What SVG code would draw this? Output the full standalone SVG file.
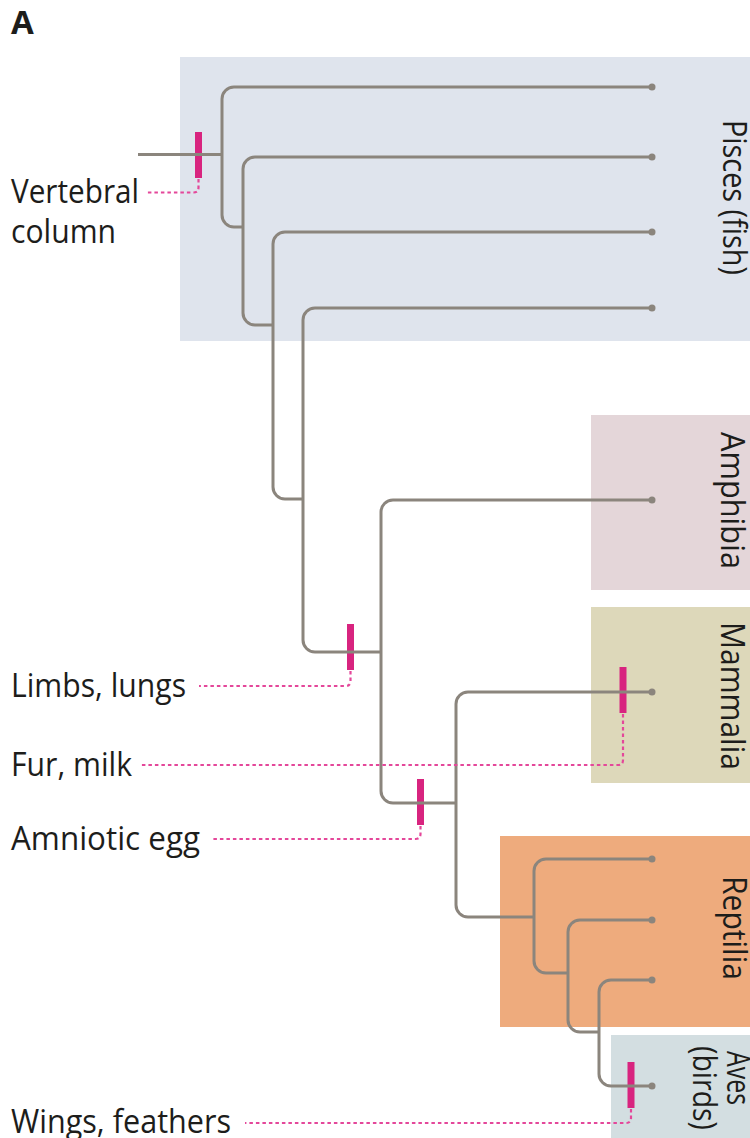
<svg xmlns="http://www.w3.org/2000/svg" width="750" height="1138" viewBox="0 0 750 1138">
<style>
.t{font-family:"Open Sans","Noto Sans","Liberation Sans",sans-serif;font-size:33px;fill:#1d1d1b}
.b{fill:none;stroke:#8b857d;stroke-width:3;stroke-linecap:butt}
.tip{fill:#8b857d}
.mk{fill:#d8247f}
.dot{fill:none;stroke:#e4479a;stroke-width:2.2;stroke-dasharray:3.5 3}
</style>
<rect width="750" height="1138" fill="#ffffff"/>
<g id="panel-label"><text x="11" y="34" style="font-family:'Open Sans','Liberation Sans',sans-serif;font-size:33px;font-weight:bold;fill:#1d1d1b">A</text></g>

<g id="clade-pisces">
<rect x="180" y="57" width="570" height="284" fill="#dfe4ed"/>
<text class="t" transform="translate(723,120) rotate(90)" textLength="155" lengthAdjust="spacingAndGlyphs">Pisces (fish)</text>
</g>
<g id="clade-amphibia">
<rect x="591" y="415" width="159" height="175" fill="#e4d6d9"/>
<text class="t" transform="translate(721,432) rotate(90)" textLength="137" lengthAdjust="spacingAndGlyphs">Amphibia</text>
</g>
<g id="clade-mammalia">
<rect x="591" y="607" width="159" height="176" fill="#ddd8ba"/>
<text class="t" transform="translate(721,622) rotate(90)" textLength="148" lengthAdjust="spacingAndGlyphs">Mammalia</text>
</g>
<g id="clade-reptilia">
<rect x="500" y="836" width="250" height="191" fill="#eeab7d"/>
<text class="t" transform="translate(723,876) rotate(90)" textLength="104" lengthAdjust="spacingAndGlyphs">Reptilia</text>
</g>
<g id="clade-aves">
<rect x="611" y="1035" width="139" height="103" fill="#d3dee1"/>
<text class="t" transform="translate(727,1051) rotate(90)" textLength="54" lengthAdjust="spacingAndGlyphs">Aves</text>
<text class="t" transform="translate(693,1046) rotate(90)" textLength="84" lengthAdjust="spacingAndGlyphs">(birds)</text>
</g>

<g id="trait-markers">
<rect class="mk" x="195" y="132" width="7" height="46"/>
<rect class="mk" x="347" y="624" width="7" height="46"/>
<rect class="mk" x="619.5" y="667" width="7" height="46"/>
<rect class="mk" x="417" y="779" width="7" height="46"/>
<rect class="mk" x="627.5" y="1062" width="7" height="46"/>
</g>

<g id="connectors">
<path class="b" d="M138 154.5 H222"/>
<path class="b" d="M652 87 H234 A12 12 0 0 0 222 99 V215 A12 12 0 0 0 234 227 H243"/>
<path class="b" d="M652 157 H255 A12 12 0 0 0 243 169 V313 A12 12 0 0 0 255 325 H273"/>
<path class="b" d="M652 232 H285 A12 12 0 0 0 273 244 V487 A12 12 0 0 0 285 499 H303"/>
<path class="b" d="M652 308 H315 A12 12 0 0 0 303 320 V640 A12 12 0 0 0 315 652 H381"/>
<path class="b" d="M652 500 H393 A12 12 0 0 0 381 512 V791 A12 12 0 0 0 393 803 H456"/>
<path class="b" d="M652 692 H468 A12 12 0 0 0 456 704 V905 A12 12 0 0 0 468 917 H534"/>
<path class="b" d="M652 859 H546 A12 12 0 0 0 534 871 V961 A12 12 0 0 0 546 973 H568"/>
<path class="b" d="M652 920 H580 A12 12 0 0 0 568 932 V1020 A12 12 0 0 0 580 1032 H599"/>
<path class="b" d="M652 980 H611 A12 12 0 0 0 599 992 V1074 A12 12 0 0 0 611 1086 H652"/>
<g class="tip">
<circle cx="652" cy="87" r="3.5"/>
<circle cx="652" cy="157" r="3.5"/>
<circle cx="652" cy="232" r="3.5"/>
<circle cx="652" cy="308" r="3.5"/>
<circle cx="652" cy="500" r="3.5"/>
<circle cx="652" cy="692" r="3.5"/>
<circle cx="652" cy="859" r="3.5"/>
<circle cx="652" cy="920" r="3.5"/>
<circle cx="652" cy="980" r="3.5"/>
<circle cx="652" cy="1086" r="3.5"/>
</g>
</g>

<g id="trait-vertebral">
<path class="dot" d="M198.5 179 V187.5 Q198.5 192.5 193.5 192.5 H147"/>
<text class="t" x="11" y="203" textLength="128" lengthAdjust="spacingAndGlyphs">Vertebral</text>
<text class="t" x="11" y="243" textLength="105" lengthAdjust="spacingAndGlyphs">column</text>
</g>
<g id="trait-limbs">
<path class="dot" d="M350.5 671 V681 Q350.5 686 345.5 686 H199"/>
<text class="t" x="11" y="697" textLength="175" lengthAdjust="spacingAndGlyphs">Limbs, lungs</text>
</g>
<g id="trait-fur">
<path class="dot" d="M623 714 V760 Q623 765 618 765 H140"/>
<text class="t" x="11" y="776" textLength="121" lengthAdjust="spacingAndGlyphs">Fur, milk</text>
</g>
<g id="trait-amniotic">
<path class="dot" d="M420.5 826 V834 Q420.5 839 415.5 839 H212"/>
<text class="t" x="11" y="850" textLength="189" lengthAdjust="spacingAndGlyphs">Amniotic egg</text>
</g>
<g id="trait-wings">
<path class="dot" d="M631 1109 V1118 Q631 1123 626 1123 H245"/>
<text class="t" x="11" y="1133" textLength="220" lengthAdjust="spacingAndGlyphs">Wings, feathers</text>
</g>
</svg>
